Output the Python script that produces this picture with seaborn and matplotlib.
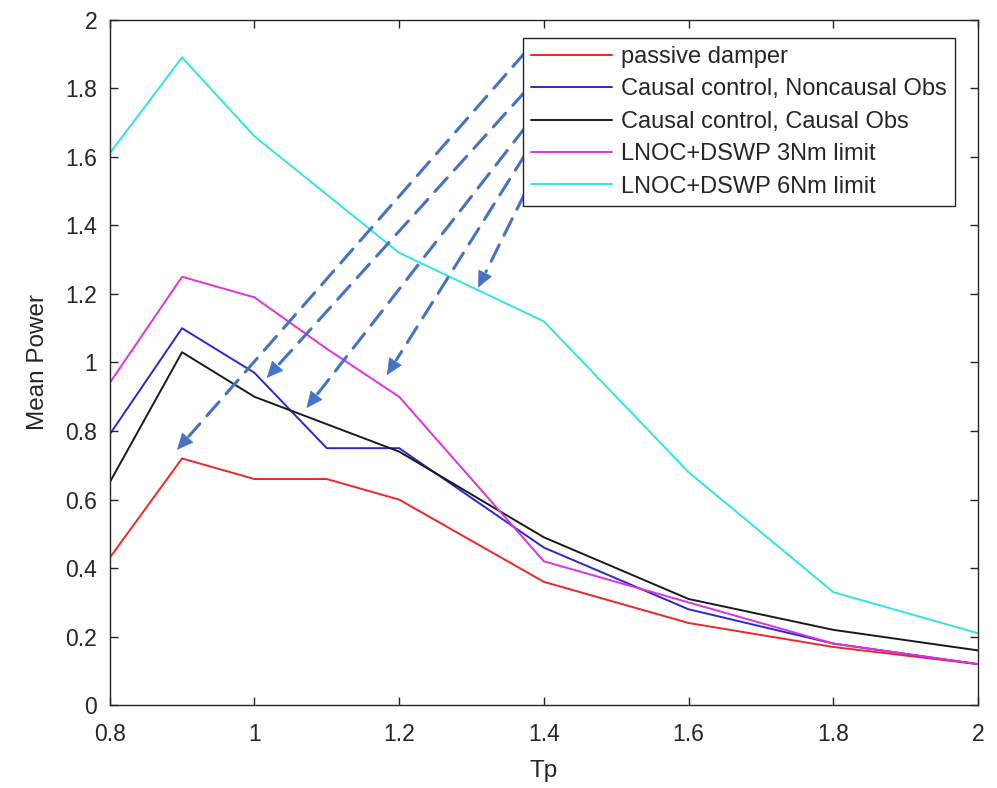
import matplotlib
matplotlib.use("Agg")
from matplotlib import pyplot as plt
from matplotlib.ticker import FormatStrFormatter
import pandas as pd
import seaborn as sns

# wave peak period points
tp = [0.8, 0.9, 1.0, 1.1, 1.2, 1.4, 1.6, 1.8, 2.0]

passive = [0.43, 0.72, 0.66, 0.66, 0.60, 0.36, 0.24, 0.17, 0.12]
causal_noncausal = [0.79, 1.10, 0.97, 0.75, 0.75, 0.46, 0.28, 0.18, 0.12]
causal_causal = [0.65, 1.03, 0.90, 0.82, 0.74, 0.49, 0.31, 0.22, 0.16]
lnoc_3nm = [0.94, 1.25, 1.19, 1.04, 0.90, 0.42, 0.30, 0.18, 0.12]
lnoc_6nm = [1.61, 1.89, 1.66, 1.49, 1.32, 1.12, 0.68, 0.33, 0.21]

labels = ["passive damper", "Causal control, Noncausal Obs",
          "Causal control, Causal Obs", "LNOC+DSWP 3Nm limit",
          "LNOC+DSWP 6Nm limit"]
colors = ["#ee2626", "#2828d4", "#1a1a1a", "#e030e0", "#30e4e4"]

# dashed arrows drawn from the legend entries to the curves
arrow_start_x = [1.374, 1.374, 1.374, 1.374, 1.374]
arrow_start_y = [1.904, 1.79, 1.685, 1.606, 1.495]
arrow_end_x = [0.893, 1.017, 1.072, 1.183, 1.309]
arrow_end_y = [0.745, 0.955, 0.867, 0.963, 1.218]

rows = []
for name, vals in zip(labels, [passive, causal_noncausal, causal_causal, lnoc_3nm, lnoc_6nm]):
    for x, y in zip(tp, vals):
        rows.append({"Tp": x, "Mean Power": y, "series": name})
df = pd.DataFrame(rows)

sns.set_style("ticks")
plt.rcParams['font.family'] = ['Liberation Sans', 'DejaVu Sans']

fig = plt.figure(figsize=(9.97, 7.88), dpi=100)
ax = fig.add_axes([0.110, 0.105, 0.871, 0.870])

sns.lineplot(data=df, x="Tp", y="Mean Power", hue="series", hue_order=labels,
             palette=colors, linewidth=1.4, sort=False, ax=ax)

ax.set_xlim(0.8, 2.0)
ax.set_ylim(0, 2.0)
ax.set_xticks([0.8, 1.0, 1.2, 1.4, 1.6, 1.8, 2.0])
ax.set_yticks([0, 0.2, 0.4, 0.6, 0.8, 1.0, 1.2, 1.4, 1.6, 1.8, 2.0])
ax.xaxis.set_major_formatter(FormatStrFormatter('%g'))
ax.yaxis.set_major_formatter(FormatStrFormatter('%g'))
ax.tick_params(direction='in', top=True, right=True, length=6, width=1,
               labelsize=16.5, colors='#262626')
ax.tick_params(axis='x', pad=13)
ax.tick_params(axis='y', pad=9)
for s in ax.spines.values():
    s.set_color('#262626')
    s.set_linewidth(1)
ax.set_xlabel("Tp", fontsize=17.5, color='#262626', labelpad=10)
ax.set_ylabel("Mean Power", fontsize=17.5, color='#262626', labelpad=12)

leg = ax.legend(loc='upper right', bbox_to_anchor=(0.9735, 0.9737),
                borderaxespad=0, fontsize=17,
                frameon=True, fancybox=False, edgecolor='#262626',
                handlelength=3.4, borderpad=0.35, labelspacing=0.44,
                handletextpad=0.4)
leg.get_frame().set_linewidth(1)
leg.get_frame().set_alpha(1)

for x0, y0, x1, y1 in zip(arrow_start_x, arrow_start_y, arrow_end_x, arrow_end_y):
    # dashed shaft
    ax.annotate("", xy=(x1, y1), xytext=(x0, y0),
                arrowprops=dict(arrowstyle='-', color='#4472c4', lw=2.2,
                                linestyle=(0, (6, 3.5)), shrinkA=0, shrinkB=13),
                zorder=5)
    # solid head
    hx = x1 + 0.03 * (x0 - x1)
    hy = y1 + 0.03 * (y0 - y1)
    ax.annotate("", xy=(x1, y1), xytext=(hx, hy),
                arrowprops=dict(arrowstyle='-|>,head_length=1.1,head_width=0.5',
                                color='#4472c4', lw=0.5, shrinkA=0, shrinkB=0),
                zorder=5)

fig.savefig("out.png", dpi=100)
